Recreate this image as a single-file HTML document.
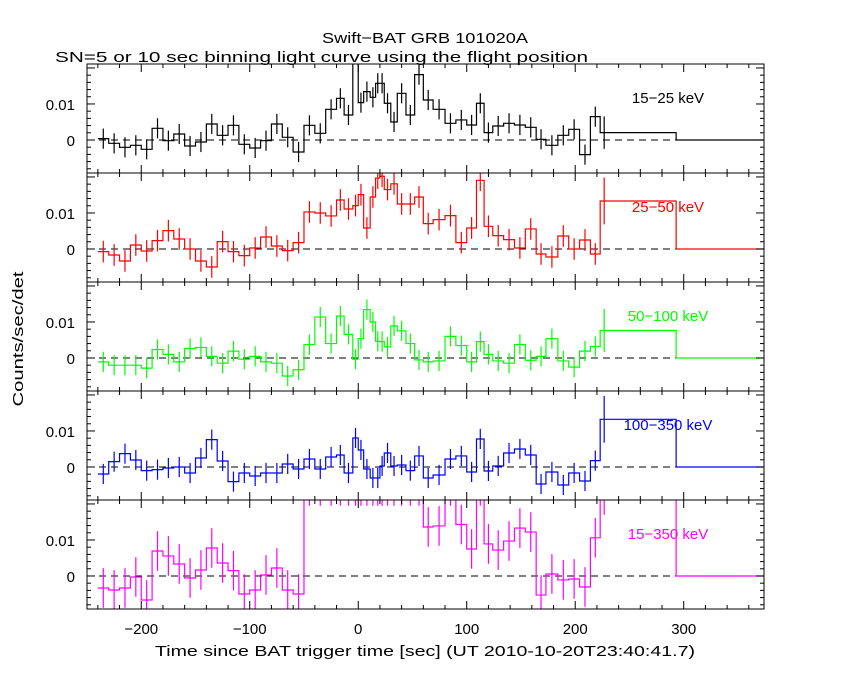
<!DOCTYPE html>
<html><head><meta charset="utf-8">
<style>
body{margin:0;background:#fff;}
svg{display:block;font-family:"Liberation Sans",sans-serif;}
</style></head>
<body>
<svg id="chart" width="850" height="680" viewBox="0 0 850 680" xmlns="http://www.w3.org/2000/svg">
<rect width="850" height="680" fill="#fff"/>
<text x="322" y="43" font-size="15" textLength="206" lengthAdjust="spacingAndGlyphs">Swift−BAT GRB 101020A</text>
<text x="55" y="62" font-size="15" textLength="533" lengthAdjust="spacingAndGlyphs">SN=5 or 10 sec binning light curve using the flight position</text>
<text x="0" y="0" font-size="15" textLength="135" lengthAdjust="spacingAndGlyphs" text-anchor="middle" transform="translate(23,339) rotate(-90)">Counts/sec/det</text>
<text x="155" y="656" font-size="15" textLength="540" lengthAdjust="spacingAndGlyphs">Time since BAT trigger time [sec] (UT 2010-10-20T23:40:41.7)</text>
<g id="plots"></g>
</svg>
<script>
const edges = [-240,-230,-220,-210,-200,-190,-180,-170,-160,-150,-140,-130,-120,-110,-100,-90,-80,-70,-60,-50,-40,-30,-20,-13,-5,0,5,11,16,20,24,30,36,44,52,60,69,80,90,100,109,116,124,134,144,154,164,173,184,194,204,214,223,293,375];
const band1 = [0.37,-0.93,-2.04,-1.48,-2.59,3.24,-0.19,1.67,-1.67,-0.56,4.44,1.30,4.07,-1.20,-2.22,-0.19,4.44,0.74,-3.33,4.07,1.85,8.52,11.57,6.94,25,10.37,13.43,11.85,15.74,15.74,10.19,5.0,12.96,6.94,18.15,11.11,8.52,4.63,5.56,4.17,10.19,2.04,3.89,4.63,4.17,3.52,0.19,-1.48,1.30,2.96,-4.07,6.48,2.04,0];
const band2 = [-0.74,-1.67,-3.33,1.11,-0.56,2.31,5.09,2.78,0,-3.33,-5.0,2.04,-0.74,-1.85,0.28,3.33,0.83,-0.46,1.76,10.28,10.0,9.17,13.61,11.11,12.04,15.09,5.83,14.44,19.7,20.2,16.5,18.1,12.5,12.5,14.44,7.04,8.15,9.26,1.76,5.83,19.07,6.30,3.70,2.59,0.28,5.56,-1.39,-2.22,3.61,0,2.50,-1.39,13.33,0];
const band3 = [-1.09,-2.0,-2.0,-2.0,-2.82,2.36,1.0,-1.09,2.64,2.91,0.45,-1.45,1.91,-0.36,0.45,-1.09,-1.45,-5.0,-3.27,3.73,11.36,4.0,11.64,6.55,-0.36,5.36,13.45,10.0,4.64,4.55,3.09,8.91,7.55,4.0,-0.55,-1.09,-0.82,6.0,3.45,-1.09,4.55,1.0,-0.82,-1.45,3.73,-0.64,0.45,5.36,-0.82,-2.55,1.91,3.18,7.64,0];
const band4 = [-1.94,1.48,3.70,1.94,-1.02,-0.74,-0.28,0,-1.67,2.50,7.59,1.67,-4.07,-1.67,-2.5,-1.67,-1.67,0.83,-0.56,2.22,-0.56,2.78,3.33,-1.67,8.06,4.72,-0.56,-3.06,-3.06,0.28,3.89,0.28,0.56,-1.02,3.06,-3.06,-2.22,2.22,3.06,-1.39,7.78,-1.11,0.28,3.89,5.0,3.33,-4.72,-1.39,-5.0,-1.67,-3.89,1.76,13.24,0];
const band5 = [-3.33,-3.89,-3.33,-0.28,-6.67,6.94,5.56,3.33,-0.56,1.67,7.78,3.61,1.48,-5.0,-3.89,0.28,2.22,-3.89,-5.0,25,25,25,25,25,25,25,25,25,25,25,25,25,25,25,25,13.6,13.9,25,14.3,7.5,25,8.9,7.2,9.7,13.3,12.2,-5.3,0.56,-1.1,-0.83,-3.06,10.6,25,0];
const bandErr = [2.8,3.0,2.8,2.8,5.5];
const wideErr = [4.5,6.5,6.0,6.5,8];
const bandLabels = ["15−25 keV","25−50 keV","50−100 keV","100−350 keV","15−350 keV"];
const bandColors = ["#000","#f00","#0f0","#00f","#f0f"];
const xTicks = [-200,-100,0,100,200,300];
const xTickLabels = ["−200","−100","0","100","200","300"];
const yTicks = [0,0.01];
const yTickLabels = ["0","0.01"];
const series = [band1,band2,band3,band4,band5];

const NS="http://www.w3.org/2000/svg";
const X0=87,X1=764,T0=-250,T1=374;
const tops=[64,173,282,391,500],PH=109,VMAX=0.0211,VMIN=-0.00917;
const xs=t=>X0+(t-T0)/(T1-T0)*(X1-X0);
function mk(tag,attrs,parent){const e=document.createElementNS(NS,tag);for(const k in attrs)e.setAttribute(k,attrs[k]);parent.appendChild(e);return e;}
const root=document.getElementById('plots');
series.forEach((vals,p)=>{
  const top=tops[p],bot=top+PH;
  const ys=v=>top+(VMAX-v)/(VMAX-VMIN)*PH;
  const g=mk('g',{},root);
  
  
  const cp=mk('clipPath',{id:'cp'+p},g);
  mk('rect',{x:X0,y:top,width:X1-X0,height:PH},cp);
  const z=mk('line',{x1:X0,x2:X1,y1:ys(0),y2:ys(0),stroke:'#000','stroke-dasharray':'7,5','stroke-width':1},g);
  
  
  const dg=mk('g',{'clip-path':'url(#cp'+p+')',stroke:bandColors[p],'stroke-width':1.2,fill:'none'},g);
  
  
  let d='';
  vals.forEach((v,i)=>{
    const xa=xs(edges[i]),xb=xs(edges[i+1]),y=ys(v/1000);
    d+=(i===0?'M':'L')+xa+','+y+'L'+xb+','+y;
    if(i<vals.length-1){
      const wide=(i===vals.length-2);
      const e=(wide?wideErr[p]:bandErr[p])/1000;
      const xc=wide?xa+4:(xa+xb)/2;
      const eb=mk('line',{x1:xc,x2:xc,y1:ys(v/1000+e),y2:ys(v/1000-e)},dg);
      
      
    }
  });
  const path=mk('path',{d:d},dg);
  
  
  const fr=mk('rect',{x:X0,y:top,width:X1-X0,height:PH,fill:'none',stroke:'#000','stroke-width':1},g);
  
  
  for(let t=-240;t<=360;t+=20){
    const major=t%100===0,len=major?8:4,x=xs(t);
    mk('line',{x1:x,x2:x,y1:top,y2:top+len,stroke:'#000'},g);
    mk('line',{x1:x,x2:x,y1:bot,y2:bot-len,stroke:'#000'},g);
  }
  for(let k=-8;k<=20;k+=2){
    const v=k/1000,y=ys(v);if(y<top||y>bot)continue;
    const len=(k%10===0)?8:4;
    mk('line',{x1:X0,x2:X0+len,y1:y,y2:y,stroke:'#000'},g);
    mk('line',{x1:X1,x2:X1-len,y1:y,y2:y,stroke:'#000'},g);
  }
  yTicks.forEach((v,i)=>{
    const t=mk('text',{x:75,y:ys(v)+6,'font-size':15,'text-anchor':'end'},g);
    
    
    t.textContent=yTickLabels[i];
  });
  const lb=mk('text',{x:668,y:top+39,'font-size':15,'text-anchor':'middle',fill:bandColors[p]},g);
  
  
  lb.textContent=bandLabels[p];
});
xTicks.forEach((t,i)=>{
  const tx=mk('text',{x:xs(t),y:634,'font-size':15,'text-anchor':'middle'},root);
  
  
  tx.textContent=xTickLabels[i];
});
</script>
</body></html>
